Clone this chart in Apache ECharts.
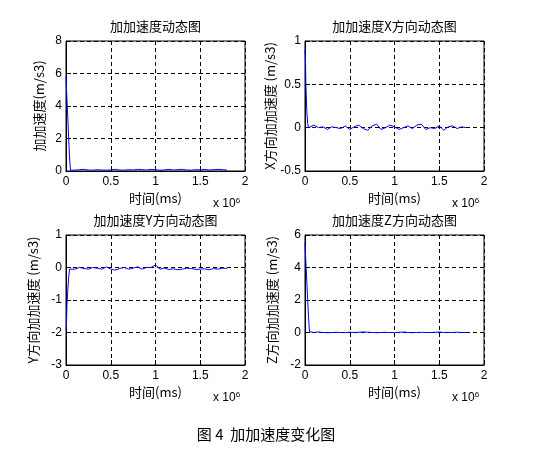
<!DOCTYPE html><html><head><meta charset="utf-8"><script src="https://cdn.jsdelivr.net/npm/echarts@6/dist/echarts.min.js"></script></head><body style="margin:0;background:#fff"><div id="c" style="width:537px;height:469px"></div><script>
const xs=[0,0.005,0.01,0.02,0.03,0.04,0.05,0.1,0.15,0.2,0.25,0.3,0.35,0.4,0.45,0.5,0.55,0.6,0.65,0.7,0.75,0.8,0.85,0.9,0.95,1.0,1.05,1.1,1.15,1.2,1.25,1.3,1.35,1.4,1.45,1.5,1.55,1.6,1.65,1.7,1.75,1.8];
const total=[5.8,5.8,4.5,3.3,2.0,0.8,0.05,0.05,0.08,0.1,0.06,0.05,0.08,0.06,0.05,0.07,0.1,0.06,0.05,0.08,0.06,0.1,0.08,0.06,0.1,0.08,0.05,0.07,0.1,0.06,0.08,0.1,0.06,0.05,0.08,0.07,0.1,0.06,0.08,0.1,0.08,0.05];
const accX=[0.9,0.8,0.5,0.2,0.05,0.0,-0.02,0.03,0.0,0.01,-0.02,0.01,0.0,-0.01,0.02,-0.02,0.01,0.03,-0.01,-0.03,0.02,0.04,-0.02,0.0,0.03,0.01,-0.02,0.0,0.02,-0.01,0.03,0.04,-0.02,0.0,-0.01,0.02,-0.03,0.01,0.02,-0.01,0.01,0.0];
const accY=[-1.9,-1.8,-1.2,-0.7,-0.3,-0.05,0.0,-0.05,0.0,-0.03,-0.05,0.0,-0.02,-0.05,0.02,-0.05,-0.08,-0.03,0.0,-0.05,-0.02,0.02,-0.05,0.0,0.0,0.08,-0.05,-0.02,-0.06,-0.04,-0.07,-0.05,-0.02,-0.03,-0.06,-0.05,-0.04,-0.07,-0.03,-0.05,-0.02,-0.03];
const accZ=[5.5,5.5,4.3,3.2,2.0,0.9,0.05,0.0,0.03,0.0,-0.01,0.0,0.01,0.0,-0.01,0.02,0.0,0.01,0.03,0.02,0.0,-0.01,0.0,0.01,0.0,0.0,0.01,0.03,0.0,-0.01,0.0,0.01,0.0,0.0,0.01,0.03,0.0,0.01,0.0,0.02,0.0,0.0];
const titles=['加加速度动态图','加加速度X方向动态图','加加速度Y方向动态图','加加速度Z方向动态图'];
const ylabels=['加加速度(m/s3)','X方向加加速度 (m/s3)','Y方向加加速度 (m/s3)','Z方向加加速度 (m/s3)'];
const yr=[[0,8,2],[-0.5,1,0.5],[-3,1,1],[-2,6,2]];
const series=[total,accX,accY,accZ];
const F='Noto Sans CJK SC';
const boxes=[[66,41],[305,41],[66,235],[305,235]];
const W=179,H=130;
const grid=[],xAxis=[],yAxis=[],ser=[],graphic=[];
boxes.forEach((b,i)=>{
grid.push({left:b[0],top:b[1],width:W,height:H,show:true,borderColor:'#000',borderWidth:1});
xAxis.push({type:'value',gridIndex:i,min:0,max:2,interval:0.5,name:'时间(ms)',nameLocation:'middle',nameGap:21,nameTextStyle:{fontFamily:F,fontSize:13,color:'#000'},axisLine:{onZero:false,lineStyle:{color:'#000'}},axisTick:{inside:true,lineStyle:{color:'#000'}},axisLabel:{color:'#000',fontSize:12,margin:5,fontFamily:'Arial'},splitLine:{lineStyle:{color:'#000',type:[4,3]}}});
yAxis.push({type:'value',gridIndex:i,min:yr[i][0],max:yr[i][1],interval:yr[i][2],name:ylabels[i],nameLocation:'middle',nameGap:i==0?20:26,nameTextStyle:{fontFamily:F,fontSize:13,color:'#000'},axisLine:{onZero:false,lineStyle:{color:'#000'}},axisTick:{inside:true,lineStyle:{color:'#000'}},axisLabel:{color:'#000',fontSize:12,margin:4,fontFamily:'Arial'},splitLine:{lineStyle:{color:'#000',type:[4,3]}}});
ser.push({type:'line',xAxisIndex:i,yAxisIndex:i,data:xs.map((x,k)=>[x,series[i][k]]),showSymbol:false,lineStyle:{color:'#0000ff',width:1},animation:false});
graphic.push({type:'text',x:b[0]+W/2,y:b[1]-21,style:{text:titles[i],font:'13px "Noto Sans CJK SC"',fill:'#000',align:'center'}});
graphic.push({type:'text',x:b[0]+W-32,y:b[1]+H+26,style:{rich:{a:{fontSize:12,fontFamily:'Arial'},s:{fontSize:8,fontFamily:'Arial',verticalAlign:'top',padding:[0,0,6,0]}},text:'{a|x 10}{s|6}',fill:'#000'}});
});
graphic.push({type:'text',x:266,y:427,style:{text:'图 4  加加速度变化图',font:'15px "Noto Sans CJK SC"',fill:'#000',align:'center'}});
echarts.init(document.getElementById('c')).setOption({animation:false,grid,xAxis,yAxis,series:ser,graphic});
</script></body></html>
